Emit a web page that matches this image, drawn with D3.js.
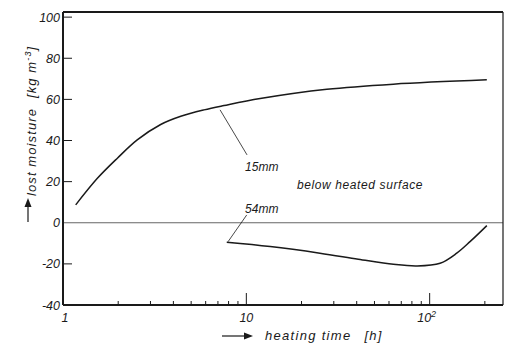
<!DOCTYPE html>
<html>
<head>
<meta charset="utf-8">
<script src="https://cdn.jsdelivr.net/npm/d3@7"></script>
<style>
  html, body { margin: 0; padding: 0; background: #fff; }
  svg { display: block; }
  text { font-family: "Liberation Sans", Arial, sans-serif; font-style: italic; fill: #1a1a1a; }
</style>
</head>
<body>
<svg id="chart" width="505" height="343"></svg>
<script>
// ---- data ----
const time15 = [1.173, 1.54, 1.98, 2.54, 3.41, 4.39, 5.88, 7.56, 11.9, 27.5, 63.4, 205];
const moist15 = [8.7, 21.6, 31.4, 40.3, 47.8, 51.8, 54.9, 57.0, 60.4, 64.9, 67.4, 69.5];
const time54 = [7.82, 13.5, 25.2, 40.8, 63.4, 85, 114, 140.5, 166, 205];
const moist54 = [-9.5, -11.6, -14.8, -17.7, -20.2, -21.0, -19.7, -14.8, -9.2, -1.4];
const yTicks = [-40, -20, 0, 20, 40, 60, 80, 100];
const yTickLabels = ["-40", "-20", "0", "20", "40", "60", "80", "100"];
const xMajorTicks = [1, 10, 100];
const xMinorTicks = [2, 3, 4, 5, 6, 7, 8, 9, 20, 30, 40, 50, 60, 70, 80, 90, 200];
const seriesLabels = ["15mm", "54mm"];
const noteText = "below heated surface";

// ---- layout ----
const svg = d3.select("#chart");
const L = 63, R = 503, T = 12, B = 305;
const x = d3.scaleLog().domain([1, Math.pow(10, 2.4)]).range([L, R]);
const y = d3.scaleLinear().domain([-40, 102.5]).range([B, T]);
const ink = "#1a1a1a";

// zero line
svg.append("line")
  .attr("x1", x(1)).attr("x2", R).attr("y1", y(0)).attr("y2", y(0))
  .attr("stroke", "#666").attr("stroke-width", 1);

// frame
svg.append("line").attr("x1", L).attr("x2", L).attr("y1", T).attr("y2", B)
  .attr("stroke", ink).attr("stroke-width", 2);
svg.append("line").attr("x1", L).attr("x2", R).attr("y1", B).attr("y2", B)
  .attr("stroke", ink).attr("stroke-width", 2);
svg.append("line").attr("x1", L).attr("x2", R).attr("y1", T).attr("y2", T)
  .attr("stroke", ink).attr("stroke-width", 2);
svg.append("line").attr("x1", R).attr("x2", R).attr("y1", T).attr("y2", B)
  .attr("stroke", ink).attr("stroke-width", 1.2);

// y ticks (inward)
svg.append("g").selectAll("line").data(yTicks.filter(d => d !== 0 && d !== -40)).join("line")
  .attr("x1", L).attr("x2", L + 9)
  .attr("y1", d => y(d)).attr("y2", d => y(d))
  .attr("stroke", ink).attr("stroke-width", 1);
svg.append("g").selectAll("text").data(yTicks).join("text")
  .attr("x", 60).attr("y", d => y(d) + 4.5)
  .attr("text-anchor", "end").attr("font-size", 12.5)
  .text((d, i) => yTickLabels[i]);

// x ticks (inward)
svg.append("g").selectAll("line").data(xMinorTicks).join("line")
  .attr("x1", d => x(d)).attr("x2", d => x(d))
  .attr("y1", B).attr("y2", B - 4)
  .attr("stroke", ink).attr("stroke-width", 1);
svg.append("g").selectAll("line").data(xMajorTicks.filter(d => d > 1)).join("line")
  .attr("x1", d => x(d)).attr("x2", d => x(d))
  .attr("y1", B).attr("y2", B - 12)
  .attr("stroke", ink).attr("stroke-width", 1);

const xl = svg.append("g").attr("font-size", 12.5);
xl.append("text").attr("x", x(1) + 2).attr("y", 322).attr("text-anchor", "middle").text("1");
xl.append("text").attr("x", x(10)).attr("y", 322).attr("text-anchor", "middle").text("10");
const t100 = xl.append("text").attr("x", x(100) - 3).attr("y", 322).attr("text-anchor", "middle");
t100.append("tspan").text("10");
t100.append("tspan").attr("dy", -5).attr("font-size", 9).text("2");

// curves
const line = d3.line().x(d => x(d[0])).y(d => y(d[1])).curve(d3.curveCatmullRom.alpha(0.5));
svg.append("path").datum(time15.map((t, i) => [t, moist15[i]]))
  .attr("d", line).attr("fill", "none").attr("stroke", ink).attr("stroke-width", 1.5);
svg.append("path").datum(time54.map((t, i) => [t, moist54[i]]))
  .attr("d", line).attr("fill", "none").attr("stroke", ink).attr("stroke-width", 1.5);

// leaders
svg.append("line").attr("x1", x(7.19)).attr("y1", y(54.9)).attr("x2", x(10.09)).attr("y2", y(33.0))
  .attr("stroke", ink).attr("stroke-width", 0.8);
svg.append("line").attr("x1", x(10.05)).attr("y1", y(3.8)).attr("x2", x(7.95)).attr("y2", y(-9.2))
  .attr("stroke", ink).attr("stroke-width", 0.8);

// annotations
svg.append("text").attr("x", x(9.84)).attr("y", y(25.2)).attr("font-size", 12).text(seriesLabels[0]);
svg.append("text").attr("x", x(9.84)).attr("y", y(4.8)).attr("font-size", 12).text(seriesLabels[1]);
svg.append("text").attr("x", x(18.9)).attr("y", y(16.4)).attr("font-size", 12)
  .attr("letter-spacing", 0.6).text(noteText);

// x-axis title with arrow
svg.append("line").attr("x1", 222).attr("x2", 246).attr("y1", 336).attr("y2", 336)
  .attr("stroke", ink).attr("stroke-width", 1.2);
svg.append("path").attr("d", "M244,332.5 L253,336 L244,339.5 Z").attr("fill", ink);
const xt = svg.append("text").attr("x", 265).attr("y", 339.5).attr("font-size", 13).attr("letter-spacing", 1.3);
xt.append("tspan").text("heating time");
xt.append("tspan").attr("dx", 13).text("[h]");

// y-axis title with arrow
svg.append("line").attr("x1", 28).attr("x2", 28).attr("y1", 222).attr("y2", 204)
  .attr("stroke", ink).attr("stroke-width", 1.2);
svg.append("path").attr("d", "M24.5,207 L28,198 L31.5,207 Z").attr("fill", ink);
const yt = svg.append("text").attr("transform", "translate(36,196) rotate(-90)")
  .attr("font-size", 13).attr("letter-spacing", 1.1);
yt.append("tspan").text("lost moisture");
yt.append("tspan").attr("dx", 10).text("[kg m");
yt.append("tspan").attr("dy", -5).attr("font-size", 9).text("-3");
yt.append("tspan").attr("dy", 5).text("]");
</script>
</body>
</html>
